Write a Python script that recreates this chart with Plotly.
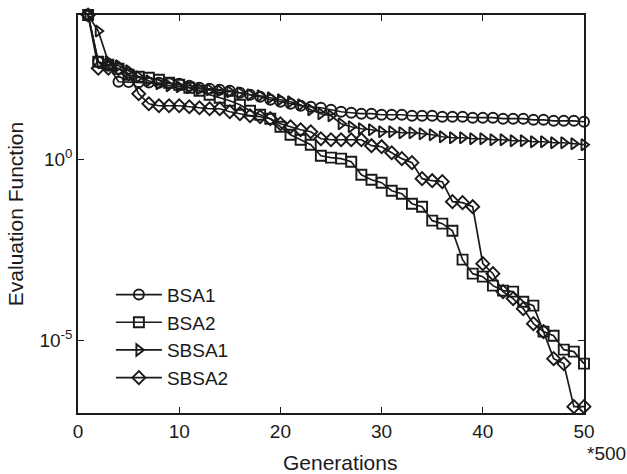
import plotly.graph_objects as go

generations = list(range(1, 51))

bsa1 = [1.0e4, 509, 395, 143, 140, 138, 136, 134, 130, 126,
        111, 97.5, 91.5, 85.9, 80.5, 71.0, 62.5, 55.0, 45.4, 40.0,
        35.2, 31.0, 29.1, 27.3, 24.1, 21.2, 19.9, 18.7, 18.7, 17.5,
        17.5, 17.5, 16.4, 16.4, 16.4, 15.4, 15.4, 15.4, 14.5, 14.5,
        14.5, 13.6, 13.6, 13.6, 12.7, 12.7, 11.9, 11.9, 11.9, 11.2]

bsa2 = [1.0e4, 509, 421, 326, 223, 196, 184, 162, 134, 118,
        97.5, 80.5, 62.5, 51.6, 42.6, 33.1, 22.6, 17.5, 13.6, 8.16,
        4.91, 3.57, 2.60, 1.29, 1.14, 1.07, 0.88, 0.385, 0.280, 0.232,
        0.139, 0.115, 0.0609, 0.0503, 0.0207, 0.0171, 0.0109, 1.73e-3, 7.1e-4, 5.86e-4,
        3.31e-4, 2.41e-4, 2.26e-4, 1.19e-4, 9.27e-5, 1.77e-5, 1.37e-5, 5.63e-6, 4.96e-6, 2.32e-6]

sbsa1 = [1.0e4, 3.6e3, 509, 395, 288, 196, 152, 126, 111, 104,
         97.5, 91.5, 85.9, 80.5, 75.5, 71.0, 62.5, 58.6, 51.6, 45.4,
         40.0, 33.1, 24.1, 18.7, 16.4, 9.87, 8.16, 7.18, 6.74, 5.93,
         5.93, 5.57, 5.57, 5.23, 4.91, 4.32, 4.05, 4.05, 3.80, 3.80,
         3.57, 3.57, 3.35, 3.35, 3.14, 3.14, 2.95, 2.95, 2.77, 2.60]

sbsa2 = [1.0e4, 340, 340, 330, 240, 66.5, 35.2, 31.0, 31.0, 31.0,
         29.1, 27.3, 25.6, 25.6, 21.2, 18.7, 16.4, 15.4, 13.6, 9.87,
         8.16, 6.74, 5.93, 3.80, 3.57, 3.57, 3.57, 3.57, 2.44, 2.29,
         1.56, 1.07, 0.83, 0.299, 0.263, 0.247, 0.0692, 0.0649, 0.0503, 1.34e-3,
         7.1e-4, 2.26e-4, 1.45e-4, 7.66e-5, 2.95e-5, 1.77e-5, 3.18e-6, 2.32e-6, 1.5e-7, 1.5e-7]

series = [
    ("BSA1", bsa1, "circle-open"),
    ("BSA2", bsa2, "square-open"),
    ("SBSA1", sbsa1, "triangle-right-open"),
    ("SBSA2", sbsa2, "diamond-open"),
]

x_ticks = [0, 10, 20, 30, 40, 50]
y_tickvals = [1e0, 1e-5]
y_ticktext = ["10<sup>0</sup>", "10<sup>-5</sup>"]

COLOR = "#1a1a1a"
FONT = "Arial, Liberation Sans, Helvetica, sans-serif"

fig = go.Figure()
for name, vals, sym in series:
    fig.add_trace(go.Scatter(
        x=generations, y=vals, name=name, mode="lines+markers",
        line=dict(color=COLOR, width=1.7),
        marker=dict(symbol=sym, size=10, color=COLOR, line=dict(color=COLOR, width=1.9)),
        cliponaxis=False,
    ))

fig.update_layout(
    width=627, height=474,
    margin=dict(l=78, r=43, t=15, b=61),
    paper_bgcolor="white", plot_bgcolor="white",
    font=dict(family=FONT, size=19, color=COLOR),
    showlegend=True,
    legend=dict(x=0.065, y=0.345, xanchor="left", yanchor="top",
                bgcolor="rgba(0,0,0,0)", borderwidth=0,
                font=dict(size=19), itemwidth=46, tracegroupgap=0),
    xaxis=dict(range=[0, 50], tickvals=x_ticks, ticks="inside", ticklen=6,
               tickcolor=COLOR, showline=True, linecolor=COLOR, linewidth=1.5,
               mirror="ticks", showgrid=False, zeroline=False),
    yaxis=dict(type="log", range=[-7, 4], tickvals=y_tickvals, ticktext=y_ticktext,
               ticks="inside", ticklen=6, tickcolor=COLOR, showline=True,
               linecolor=COLOR, linewidth=1.5, mirror="ticks", showgrid=False,
               zeroline=False,
               title=dict(text="Evaluation Function", font=dict(size=21), standoff=10)),
    annotations=[
        dict(text="Generations", xref="paper", yref="paper", x=0.518, y=-0.125,
             xanchor="center", yanchor="middle", showarrow=False,
             font=dict(size=21, color=COLOR)),
        dict(text="*500", xref="paper", yref="paper", x=1.0435, y=-0.103,
             xanchor="center", yanchor="middle", showarrow=False,
             font=dict(size=19, color=COLOR)),
    ],
)

fig.write_html("out.html")
